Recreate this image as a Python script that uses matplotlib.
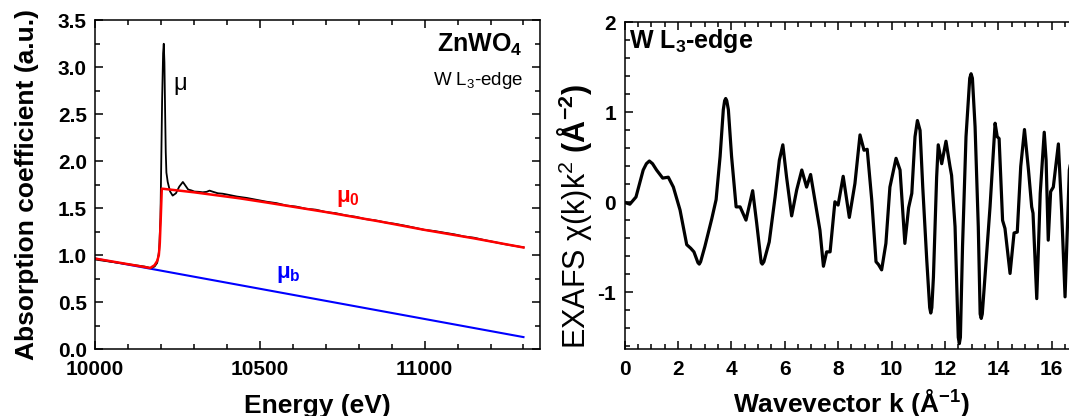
import matplotlib
matplotlib.use("Agg")
import matplotlib.pyplot as plt
from matplotlib.ticker import MultipleLocator

plt.rcParams["font.family"] = ["Liberation Sans", "DejaVu Sans"]
plt.rcParams["mathtext.fontset"] = "custom"
plt.rcParams["mathtext.rm"] = "Liberation Sans"
plt.rcParams["mathtext.it"] = "Liberation Sans:italic"
plt.rcParams["mathtext.bf"] = "Liberation Sans:bold"
plt.rcParams["axes.unicode_minus"] = False

# --- left panel: absorption (eV, a.u.)
mu_E = [10000, 10030, 10060, 10090, 10120, 10150, 10167, 10180, 10188, 10194,
        10198, 10200, 10203, 10206, 10208, 10210, 10212, 10214, 10216, 10220,
        10227, 10235, 10245, 10255, 10266, 10274, 10282, 10292, 10301, 10315,
        10326, 10338, 10347, 10358, 10372, 10387, 10402, 10430, 10460, 10490,
        10520, 10550, 10580, 10610, 10640, 10670, 10700, 10730, 10760, 10790,
        10820, 10850, 10880, 10910, 10940, 10970, 11000, 11030, 11060, 11090,
        11120, 11150, 11180, 11210, 11240, 11270, 11300]
mu_val = [0.955, 0.94, 0.925, 0.91, 0.895, 0.88, 0.865, 0.88, 0.92, 1.05,
          1.40, 1.90, 2.65, 3.15, 3.25, 3.05, 2.55, 2.10, 1.88, 1.78,
          1.68, 1.635, 1.66, 1.73, 1.78, 1.74, 1.70, 1.69, 1.678, 1.675,
          1.67, 1.675, 1.688, 1.675, 1.66, 1.655, 1.645, 1.625, 1.61, 1.59,
          1.57, 1.555, 1.53, 1.518, 1.495, 1.485, 1.46, 1.448, 1.425, 1.41,
          1.385, 1.372, 1.35, 1.335, 1.315, 1.293, 1.27, 1.258, 1.24, 1.223,
          1.20, 1.187, 1.163, 1.142, 1.12, 1.102, 1.085]

mu0_E = [10000, 10167, 10180, 10188, 10193, 10196, 10199, 10202, 10300, 10438,
         10523, 10700, 10868, 11000, 11150, 11300]
mu0_val = [0.965, 0.865, 0.895, 0.94, 1.00, 1.13, 1.41, 1.709, 1.67, 1.606,
           1.56, 1.46, 1.357, 1.27, 1.18, 1.083]

mub_E = [10000, 11300]
mub_val = [0.965, 0.13]

# --- right panel: EXAFS k^2 chi(k)
k = [0.0, 0.2, 0.43, 0.70, 0.82, 0.93, 1.05, 1.2, 1.43, 1.64, 1.83, 2.08,
     2.33, 2.48, 2.6, 2.75, 2.80, 2.85, 3.01, 3.27, 3.43, 3.58, 3.70, 3.75, 3.79,
     3.83, 3.89, 4.01, 4.18, 4.33, 4.55, 4.80, 4.95, 5.12, 5.16, 5.22, 5.42, 5.64,
     5.80, 5.93, 6.07, 6.26, 6.45, 6.64, 6.82, 6.97, 7.13, 7.32,
     7.45, 7.57, 7.70, 7.88, 8.0, 8.19, 8.42, 8.63, 8.82, 8.97,
     9.09, 9.26, 9.42, 9.51, 9.63, 9.79, 9.94, 10.17, 10.32, 10.5,
     10.64, 10.76, 10.88, 10.97, 11.07, 11.17, 11.32, 11.43, 11.47, 11.51, 11.57, 11.69,
     11.75, 11.88, 12.04, 12.19, 12.25, 12.38, 12.50, 12.54, 12.58, 12.66, 12.79,
     12.93, 12.98, 13.03, 13.13, 13.25, 13.32, 13.36, 13.40, 13.50, 13.69, 13.88,
     13.96, 14.03, 14.16, 14.25,
     14.44, 14.59, 14.71, 14.84, 14.98, 15.13, 15.25, 15.3, 15.44, 15.57,
     15.72, 15.79, 15.87, 15.96, 16.06, 16.25, 16.37, 16.50, 16.66, 16.8,
     17.0]
chi = [0.0, -0.02, 0.06, 0.36, 0.43, 0.46, 0.43, 0.36, 0.27, 0.28, 0.17, -0.085,
       -0.47, -0.51, -0.55, -0.67, -0.686, -0.66, -0.49, -0.18, 0.03, 0.51, 1.03, 1.13, 1.155,
       1.13, 1.03, 0.51, -0.05, -0.05, -0.197, 0.13, -0.23, -0.67, -0.686, -0.66, -0.44, 0.06,
       0.47, 0.64, 0.28, -0.15, 0.14, 0.36, 0.17, 0.31, 0.026, -0.31,
       -0.71, -0.55, -0.55, 0.007, -0.03, 0.29, -0.167, 0.21, 0.75, 0.58,
       0.59, 0.026, -0.66, -0.69, -0.75, -0.456, 0.17, 0.49, 0.36, -0.456,
       -0.06, 0.1, 0.73, 0.91, 0.80, 0.17, -0.64, -1.17, -1.23, -1.17, -0.83, 0.28,
       0.64, 0.43, 0.68, 0.40, 0.30, -0.27, -1.50, -1.57, -1.50, -0.49, 0.73,
       1.38, 1.43, 1.38, 0.84, -0.27, -1.24, -1.29, -1.24, -0.83, -0.05, 0.88,
       0.73, 0.71, -0.2, -0.29,
       -0.79, -0.34, -0.33, 0.40, 0.81, 0.36, -0.05, -0.12, -1.07, 0.1,
       0.78, 0.47, -0.42, 0.12, 0.17, 0.65, -0.085, -1.05, 0.36, 0.6,
       0.5]

fig = plt.figure(figsize=(10.69, 4.16), dpi=100)
ax1 = fig.add_axes([0.0891, 0.1603, 0.416, 0.791])
ax2 = fig.add_axes([0.5842, 0.161, 0.4246, 0.785])

ax1.plot(mub_E, mub_val, color="#0000ff", lw=1.5)
ax1.plot(mu_E, mu_val, color="black", lw=1.3)
ax1.plot(mu0_E, mu0_val, color="#ff0000", lw=1.8)
ax1.set_xlim(10000, 11350)
ax1.set_ylim(0, 3.5)
ax1.set_xticks([10000, 10500, 11000])
ax1.set_yticks([0.0, 0.5, 1.0, 1.5, 2.0, 2.5, 3.0, 3.5])
ax1.set_yticklabels(["0.0", "0.5", "1.0", "1.5", "2.0", "2.5", "3.0", "3.5"])
ax1.xaxis.set_minor_locator(MultipleLocator(100))
ax1.yaxis.set_minor_locator(MultipleLocator(0.25))
ax1.set_xlabel("Energy (eV)", fontsize=19, fontweight="bold")
ax1.set_ylabel("Absorption coefficient (a.u.)", fontsize=19, fontweight="bold")
ax1.xaxis.set_label_coords(0.5, -0.136)
ax1.yaxis.set_label_coords(-0.127, 0.5)

ax1.text(10257, 2.82, "μ", fontsize=17, ha="center", va="center")
ax1.text(10731, 1.60, r"μ$_{\mathbf{0}}$", fontsize=16, fontweight="bold",
         color="#ff0000", ha="left", va="center")
ax1.text(10550, 0.80, r"μ$_{\mathbf{b}}$", fontsize=16, fontweight="bold",
         color="#0000ff", ha="left", va="center")
ax1.text(0.96, 0.925, r"ZnWO$_{\mathbf{4}}$", transform=ax1.transAxes,
         fontsize=18, fontweight="bold", ha="right", va="center")
ax1.text(0.963, 0.818, r"W L$_3$-edge", transform=ax1.transAxes,
         fontsize=13.5, ha="right", va="center")

ax2.plot(k, chi, color="black", lw=2.3, solid_joinstyle="round")
ax2.set_xlim(0, 17)
ax2.set_ylim(-1.63, 2)
ax2.set_xticks([0, 2, 4, 6, 8, 10, 12, 14, 16])
ax2.set_yticks([-1, 0, 1, 2])
ax2.xaxis.set_minor_locator(MultipleLocator(0.5))
ax2.yaxis.set_minor_locator(MultipleLocator(0.2))
ax2.set_xlabel(r"Wavevector k (Å$^{\mathbf{-1}}$)", fontsize=19, fontweight="bold")
ax2.set_ylabel(r"EXAFS χ(k)k$^2$ $\mathbf{(Å^{-2})}$", fontsize=22)
ax2.xaxis.set_label_coords(0.5, -0.115)
ax2.yaxis.set_label_coords(-0.067, 0.407)
ax2.text(0.15, 1.79, r"W L$_{\mathbf{3}}$-edge", fontsize=18, fontweight="bold",
         ha="left", va="center")

for ax in (ax1, ax2):
    for sp in ax.spines.values():
        sp.set_linewidth(1.1)
    ax.tick_params(which="both", direction="in", top=True, right=True,
                   width=1.1, labelsize=15)
    ax.tick_params(which="major", length=5.5, pad=6)
    ax.tick_params(which="minor", length=3.5)
    for lbl in ax.get_xticklabels() + ax.get_yticklabels():
        lbl.set_fontweight("bold")
ax1.tick_params(axis="x", which="major", pad=8)
ax2.tick_params(axis="x", which="major", pad=8)

fig.savefig("out.png", dpi=100)
